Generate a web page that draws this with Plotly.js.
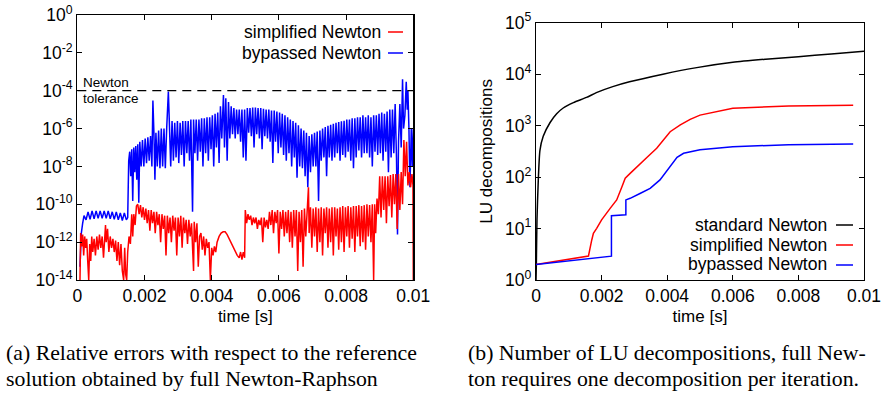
<!DOCTYPE html>
<html><head><meta charset="utf-8">
<script src="https://cdn.plot.ly/plotly-3.0.1.min.js"></script>
<style>html,body{margin:0;padding:0;background:#fff}#chart{width:886px;height:393px}</style>
</head><body><div id="chart"></div>
<script>
// ---------- Panel (a): relative errors ----------
const tBlue = [0.00008,0.00012,0.00016,0.0002,0.00026,0.00032,0.00038,0.00044,0.0005,0.00056,0.00062,0.00068,0.00074,0.0008,0.00086,0.00092,0.00098,0.00104,0.0011,0.00116,0.00122,0.00128,0.00134,0.0014,0.00146,0.0015,
0.00153,0.00156,0.00159,0.00162,0.00165,0.00168,0.00171,0.00174,0.00177,0.0018,0.00183,0.00186,0.0019,0.00194,0.00198,0.00202,0.00206,0.0021,0.00214,0.00218,0.00222,0.00225,0.00228,0.00231,0.00234,0.00238,0.00242,0.00246,0.0025,0.00254,0.00258,0.00262,0.00266,0.00271,
0.00274,0.00278,0.00282,0.00286,0.0029,0.00294,0.00298,0.00302,0.00306,0.0031,0.00314,0.00318,0.00322,0.00326,0.0033,0.00334,0.00338,0.00343,0.00346,0.0035,0.00354,0.00358,0.00362,0.00366,0.0037,0.00374,0.00378,0.00382,0.00386,0.0039,0.00394,0.00398,
0.00402,0.00406,0.0041,0.00414,0.00418,0.00422,0.00426,0.0043,0.00435,0.00438,0.00442,0.00446,0.0045,0.00454,0.00458,0.00462,0.00466,0.0047,0.00474,0.00478,0.00482,0.00486,0.0049,0.00494,0.00498,
0.00502,0.00506,0.0051,0.00514,0.00518,0.00522,0.00526,0.0053,0.00534,0.00538,0.00542,0.00546,0.0055,0.00554,0.00558,0.00562,0.00566,0.0057,0.00574,0.00578,0.00582,0.00586,0.0059,0.00594,0.00598,
0.00602,0.00606,0.0061,0.00614,0.00618,0.00622,0.00626,0.0063,0.00634,0.00638,0.00642,0.00646,0.0065,0.00654,0.00658,0.00662,0.00666,0.0067,0.00674,0.00678,0.00682,0.00686,0.0069,0.00694,0.00698,
0.00702,0.00706,0.0071,0.00714,0.00718,0.00722,0.00726,0.0073,0.00734,0.00738,0.00742,0.00746,0.0075,0.00754,0.00758,0.00762,0.00766,0.0077,0.00774,0.00778,0.00782,0.00786,0.0079,0.00794,0.00798,
0.00802,0.00806,0.0081,0.00814,0.00818,0.00822,0.00826,0.0083,0.00834,0.00838,0.00842,0.00846,0.0085,0.00854,0.00858,0.00862,0.00866,0.0087,0.00874,0.00878,0.00882,0.00886,0.0089,0.00894,0.00898,
0.00902,0.00906,0.0091,0.00914,0.00918,0.00922,0.00926,0.0093,0.00934,0.00938,0.00942,0.00946,0.0095,0.00953,0.00956,0.0096,0.00964,0.00968,0.00971,0.00975,0.00979,0.00982,0.00984,0.00987,0.0099,0.00994,0.00997,0.01];
const vBlue = [5e-14,3e-12,1e-11,2.5e-11,1.5e-11,4e-11,1.6e-11,4.5e-11,1.7e-11,4.5e-11,1.8e-11,4.5e-11,1.8e-11,4.5e-11,1.8e-11,4.5e-11,1.7e-11,4e-11,1.6e-11,4e-11,1.5e-11,3.5e-11,1.4e-11,3.5e-11,1.5e-11,2e-11,
2e-8,6e-8,3e-9,8e-8,1.5e-10,1e-7,5e-9,1.2e-7,2e-9,1.5e-7,1.2e-10,2e-7,1e-8,2.5e-7,1e-8,3e-7,1.5e-8,3.5e-7,2e-8,4e-7,1e-8,3e-5,6e-7,2e-9,6e-7,1e-8,8e-7,8e-9,1e-6,1e-8,1e-6,8e-9,1e-6,9e-5,
2e-6,1e-8,2.5e-6,2e-8,2e-6,3e-8,2.5e-6,1.5e-8,2e-6,4e-8,2.5e-6,1e-8,2.5e-6,5e-8,2.5e-6,2e-8,3e-6,4e-11,3e-6,5e-8,3e-6,2e-8,3e-6,6e-8,3.5e-6,1e-8,3.5e-6,5e-8,4e-6,2e-8,4e-6,8e-8,
5e-6,1e-8,6e-6,1e-7,7e-6,1.5e-8,1.5e-5,3e-7,6e-5,1e-7,4e-5,2e-8,2.5e-5,3e-7,1.5e-5,5e-7,1.2e-5,3e-7,1e-5,5e-7,1e-5,2e-7,1e-5,3e-8,1e-5,
2e-8,1.2e-5,6e-7,1.2e-5,4e-7,1.3e-5,1e-7,1.3e-5,5e-7,1.2e-5,3e-7,1.2e-5,8e-8,1.1e-5,4e-7,1e-5,3e-7,1e-5,2e-7,9e-6,1.5e-8,9e-6,2e-7,8e-6,5e-8,
7e-6,1e-7,6e-6,4e-8,5e-6,2e-8,4e-6,5e-8,3e-6,1e-8,2.5e-6,3e-8,2e-6,2.5e-9,1.5e-6,1e-8,1e-6,8e-9,8e-7,3e-9,6e-7,8e-10,4e-7,5e-9,5e-7,
1e-8,6e-7,1e-8,7e-7,1.5e-10,8e-7,2e-8,1e-6,3e-8,1.2e-6,3e-9,1.4e-6,3e-8,1.6e-6,2e-8,1.8e-6,3e-8,2e-6,5e-8,2.2e-6,2e-8,2.4e-6,4e-8,2.6e-6,3e-8,
3e-6,6e-8,3e-6,2e-8,3.5e-6,8e-9,3.5e-6,3e-8,4e-6,7e-8,4e-6,3e-8,5e-6,5e-8,4e-6,5e-8,5e-6,3e-8,4e-6,1e-8,5e-6,6e-8,5e-6,4e-8,6e-6,
5e-8,7e-6,2e-8,6e-6,6e-8,8e-6,5e-9,1e-5,3e-8,1e-5,5e-8,2e-5,3e-8,2.5e-12,2e-7,2e-5,1e-7,4e-4,1e-6,5e-6,3e-4,1e-5,1e-4,1e-6,8e-10,1e-6,1e-8,1e-6];

const tRed = [0.00008,0.0001,0.00013,0.00016,0.00019,0.00022,0.00025,0.00028,0.00031,0.00034,0.00037,0.0004,0.00043,0.00046,0.0005,0.00054,0.00058,0.00062,0.00066,0.0007,0.00074,0.00078,0.00084,0.00086,0.0009,0.00094,0.00098,
0.00102,0.00106,0.0011,0.00114,0.00118,0.00122,0.00126,0.0013,0.00134,0.00138,0.00141,0.00144,0.00147,0.0015,0.00154,0.00158,0.00162,0.00165,0.00168,0.00172,0.00176,0.0018,0.00184,0.00188,0.00192,0.00196,
0.002,0.00204,0.00208,0.00212,0.00216,0.0022,0.00224,0.00228,0.00232,0.00236,0.0024,0.00244,0.00248,0.00252,0.00256,0.0026,0.00264,0.00268,0.00272,0.00276,0.0028,0.00284,0.00288,0.00292,0.00296,
0.003,0.00304,0.00308,0.00312,0.00316,0.0032,0.00324,0.00328,0.00332,0.00336,0.0034,0.00346,0.00348,0.00352,0.00356,0.0036,0.00364,0.00368,0.00372,0.00376,0.0038,0.00384,0.00388,0.00392,0.00396,
0.004,0.00404,0.00408,0.00412,0.00416,0.00422,0.00428,0.00434,0.0044,0.00446,0.00452,0.00458,0.00464,0.0047,0.00476,0.00482,0.00486,0.0049,0.00494,0.00498,
0.005,0.00504,0.00508,0.00512,0.00516,0.0052,0.00524,0.00528,0.00532,0.00536,0.0054,0.00544,0.00548,0.00552,0.00556,0.0056,0.00564,0.00568,0.00572,0.00576,0.0058,0.00584,0.00588,0.00592,0.00596,
0.006,0.00604,0.00608,0.00612,0.00616,0.0062,0.00624,0.00628,0.00632,0.00636,0.0064,0.00644,0.00648,0.00652,0.00656,0.0066,0.00664,0.00668,0.00672,0.00676,0.0068,0.00684,0.00688,0.0069,0.00694,0.00698,
0.00702,0.00706,0.0071,0.00714,0.00718,0.00722,0.00726,0.0073,0.00734,0.00738,0.00742,0.00746,0.0075,0.00754,0.00758,0.00762,0.00766,0.0077,0.00774,0.00778,0.00782,0.00786,0.0079,0.00794,0.00798,
0.00802,0.00806,0.0081,0.00814,0.00818,0.00822,0.00826,0.0083,0.00834,0.00838,0.00842,0.00846,0.0085,0.00854,0.00858,0.00862,0.00866,0.0087,0.00874,0.00878,0.00882,0.00885,0.00888,0.00892,0.00896,
0.009,0.00904,0.00908,0.00912,0.00916,0.0092,0.00924,0.00928,0.00932,0.00936,0.0094,0.00944,0.00948,0.00952,0.00956,0.0096,0.00964,0.00968,0.00972,0.00976,0.0098,0.00984,0.00988,0.00992,0.00996,0.00999,0.01];
const vRed = [1e-14,3e-12,6e-13,2.5e-12,2e-13,2e-12,5e-13,1.5e-12,1e-13,1e-14,8e-13,1e-13,2e-12,3e-13,1.5e-12,2e-13,2e-12,4e-13,2.5e-12,5e-13,2e-12,1.5e-13,8e-12,1e-12,5e-12,3e-13,2e-12,
5e-13,1.5e-12,3e-13,1.2e-12,1e-13,1e-12,6e-14,8e-13,3e-14,1e-14,5e-13,2e-14,1e-14,3e-13,2e-12,8e-13,3e-11,2e-12,3e-11,8e-12,8e-11,1e-10,3e-11,9e-11,2e-11,7e-11,
1.5e-11,6e-11,1e-11,5e-11,4e-12,5e-11,1e-11,4e-11,3e-12,4e-11,8e-12,3e-11,1e-12,3e-11,5e-12,2.5e-11,2e-13,2.5e-11,3e-12,2e-11,1e-12,2.5e-11,4e-12,2e-11,2e-13,
2e-11,2e-12,2.5e-11,5e-13,2e-11,3e-12,1.5e-11,8e-13,1.5e-11,2e-12,1e-11,3e-14,1.2e-11,1e-12,1e-11,5e-14,2e-12,3e-12,4e-13,2e-12,2e-13,1.5e-12,5e-13,1e-12,1e-14,
5e-13,2e-13,6e-13,3e-13,1e-12,2e-12,3e-12,3.5e-12,3.5e-12,2.5e-12,1.5e-12,8e-13,5e-13,3e-13,2e-13,1.5e-13,3e-13,1.2e-13,3e-13,1.5e-13,
5e-11,1e-11,3e-11,1.5e-11,2.5e-11,8e-12,2e-11,1e-11,2e-11,5e-12,1.5e-11,8e-12,2e-11,1e-12,2e-11,6e-12,1.5e-11,5e-12,4e-11,8e-12,5e-11,3e-12,4e-11,1e-11,5e-11,
2.5e-13,4e-11,5e-12,5e-11,2e-12,4e-11,3e-12,5e-11,1e-12,4e-11,5e-13,5e-11,2e-12,5e-11,3e-14,4e-11,1e-12,5e-11,5e-14,6e-11,2e-12,6e-11,8e-10,3e-12,7e-11,5e-13,
6e-11,2e-12,7e-11,3e-13,6e-11,1e-12,7e-11,2e-13,6e-11,3e-12,7e-11,5e-13,6e-11,1e-12,7e-11,2e-13,7e-11,2e-12,6e-11,4e-13,7e-11,1e-12,8e-11,3e-13,7e-11,
2e-12,8e-11,5e-13,7e-11,1.5e-12,8e-11,3e-13,8e-11,2e-12,9e-11,6e-13,8e-11,1e-12,9e-11,4e-13,1e-10,2e-12,9e-11,1e-12,1e-10,1e-14,1e-10,3e-12,2e-10,3e-11,
3e-9,2e-11,3e-9,5e-11,3e-9,1e-11,3e-9,8e-11,3.5e-9,2e-11,4e-9,1e-10,4e-9,5e-12,4e-9,5e-11,5e-9,1e-10,2.5e-7,3e-9,2e-7,1e-9,5e-9,8e-10,4e-9,1e-9,1e-14];

const tolT = [0, 0.01];
const tolV = [1e-4, 1e-4];

const xTicks = [0, 0.002, 0.004, 0.006, 0.008, 0.01];
const xTickText = ['0', '0.002', '0.004', '0.006', '0.008', '0.01'];
const yTicksA = [1e-14, 1e-12, 1e-10, 1e-8, 1e-6, 1e-4, 1e-2, 1];
const yTickTextA = ['10<sup>-14</sup>','10<sup>-12</sup>','10<sup>-10</sup>','10<sup>-8</sup>','10<sup>-6</sup>','10<sup>-4</sup>','10<sup>-2</sup>','10<sup>0</sup>'];

// ---------- Panel (b): LU decompositions ----------
const tStd = [0, 0.00001, 0.00003, 0.00007, 0.00012, 0.00022, 0.00043, 0.00063, 0.00083, 0.00114, 0.00154, 0.00184, 0.00234, 0.00285, 0.00387, 0.0049, 0.006, 0.007, 0.008, 0.009, 0.01];
const vStd = [1, 2, 15, 88, 330, 620, 1150, 1700, 2200, 2800, 3530, 4370, 5720, 7100, 10000, 13400, 17000, 19500, 21900, 24600, 28000];
const tSimp = [0, 0.0016, 0.0017, 0.00175, 0.00185, 0.002, 0.00226, 0.00246, 0.00262, 0.00272, 0.00287, 0.00307, 0.00338, 0.00368, 0.00389, 0.00409, 0.0044, 0.0047, 0.005, 0.006, 0.0077, 0.00967];
const vSimp = [2, 2.93, 6.0, 8.1, 10.1, 14.7, 24.7, 35.9, 65, 95, 118, 159, 241, 362, 525, 760, 1030, 1320, 1600, 2180, 2400, 2500];
const tByp = [0, 0.0023, 0.0023, 0.00274, 0.00274, 0.00287, 0.00317, 0.00348, 0.00378, 0.00409, 0.0043, 0.0045, 0.0048, 0.005, 0.006, 0.0077, 0.00967];
const vByp = [2, 2.9, 17.7, 18.5, 36, 38.7, 48, 60.5, 88, 160, 242, 290, 325, 340, 390, 425, 440];
const yTicksB = [1, 10, 100, 1000, 10000, 100000];
const yTickTextB = ['10<sup>0</sup>','10<sup>1</sup>','10<sup>2</sup>','10<sup>3</sup>','10<sup>4</sup>','10<sup>5</sup>'];

const W = 886, H = 393;
const px = x => x / W;
const py = y => 1 - y / H;
const RED = '#ff0000', BLUE = '#0000ff', BLACK = '#000000';
const FONT = 'Liberation Sans, Arial, Helvetica, sans-serif';
const SERIF = 'Liberation Serif, Times New Roman, serif';
const FS = 17.5;
const CFS = 21.8;

const traces = [
  {x: tBlue, y: vBlue, xaxis: 'x', yaxis: 'y', mode: 'lines', name: 'bypassed Newton', line: {color: BLUE, width: 1.5}},
  {x: tRed, y: vRed, xaxis: 'x', yaxis: 'y', mode: 'lines', name: 'simplified Newton', line: {color: RED, width: 1.5}},
  {x: tolT, y: tolV, xaxis: 'x', yaxis: 'y', mode: 'lines', name: 'Newton tolerance', line: {color: BLACK, width: 1.3, dash: '9px,6px'}},
  {x: tStd, y: vStd, xaxis: 'x2', yaxis: 'y2', mode: 'lines', name: 'standard Newton', line: {color: BLACK, width: 1.5, shape: 'spline', smoothing: 0.6}},
  {x: tSimp, y: vSimp, xaxis: 'x2', yaxis: 'y2', mode: 'lines', name: 'simplified Newton', line: {color: RED, width: 1.5}},
  {x: tByp, y: vByp, xaxis: 'x2', yaxis: 'y2', mode: 'lines', name: 'bypassed Newton', line: {color: BLUE, width: 1.5}}
];

const axBase = {
  ticks: 'inside', ticklen: 5, tickwidth: 1, tickcolor: BLACK,
  showline: true, linecolor: BLACK, linewidth: 1.2, mirror: 'ticks',
  showgrid: false, zeroline: false, automargin: false,
  tickfont: {family: FONT, size: FS, color: BLACK}
};

const layout = {
  width: W, height: H,
  margin: {l: 0, r: 0, t: 0, b: 0},
  paper_bgcolor: '#fff', plot_bgcolor: '#fff',
  font: {family: FONT, size: FS, color: BLACK},
  showlegend: false,
  xaxis: Object.assign({}, axBase, {domain: [px(77.3), px(413.3)], anchor: 'y', range: [0, 0.01],
    tickmode: 'array', tickvals: xTicks, ticktext: xTickText,
    title: {text: 'time [s]', font: {family: FONT, size: 17}, standoff: 4}}),
  yaxis: Object.assign({}, axBase, {domain: [py(280), py(15)], anchor: 'x', type: 'log', range: [-14, 0],
    tickmode: 'array', tickvals: yTicksA, ticktext: yTickTextA}),
  xaxis2: Object.assign({}, axBase, {domain: [px(536), px(864)], anchor: 'y2', range: [0, 0.01],
    tickmode: 'array', tickvals: xTicks, ticktext: xTickText,
    title: {text: 'time [s]', font: {family: FONT, size: 17}, standoff: 4}}),
  yaxis2: Object.assign({}, axBase, {domain: [py(280), py(22.7)], anchor: 'x2', type: 'log', range: [0, 5],
    tickmode: 'array', tickvals: yTicksB, ticktext: yTickTextB,
    title: {text: 'LU decompositions', font: {family: FONT, size: 17}}}),
  shapes: [
    {type: 'line', xref: 'paper', yref: 'paper', x0: px(388), x1: px(403), y0: py(32), y1: py(32), line: {color: RED, width: 1.5}},
    {type: 'line', xref: 'paper', yref: 'paper', x0: px(388), x1: px(403), y0: py(53), y1: py(53), line: {color: BLUE, width: 1.5}},
    {type: 'line', xref: 'paper', yref: 'paper', x0: px(836), x1: px(853), y0: py(225), y1: py(225), line: {color: BLACK, width: 1.5}},
    {type: 'line', xref: 'paper', yref: 'paper', x0: px(836), x1: px(853), y0: py(245), y1: py(245), line: {color: RED, width: 1.5}},
    {type: 'line', xref: 'paper', yref: 'paper', x0: px(836), x1: px(853), y0: py(265), y1: py(265), line: {color: BLUE, width: 1.5}}
  ],
  annotations: [
    {xref: 'paper', yref: 'paper', x: px(383), y: py(32), xanchor: 'right', yanchor: 'middle', showarrow: false, text: 'simplified Newton', font: {family: FONT, size: FS}},
    {xref: 'paper', yref: 'paper', x: px(383), y: py(53), xanchor: 'right', yanchor: 'middle', showarrow: false, text: 'bypassed Newton', font: {family: FONT, size: FS}},
    {xref: 'paper', yref: 'paper', x: px(81), y: py(83), xanchor: 'left', yanchor: 'middle', showarrow: false, text: 'Newton', font: {family: FONT, size: 13.5}},
    {xref: 'paper', yref: 'paper', x: px(81), y: py(98), xanchor: 'left', yanchor: 'middle', showarrow: false, text: 'tolerance', font: {family: FONT, size: 13.5}},
    {xref: 'paper', yref: 'paper', x: px(829), y: py(225), xanchor: 'right', yanchor: 'middle', showarrow: false, text: 'standard Newton', font: {family: FONT, size: FS}},
    {xref: 'paper', yref: 'paper', x: px(829), y: py(245), xanchor: 'right', yanchor: 'middle', showarrow: false, text: 'simplified Newton', font: {family: FONT, size: FS}},
    {xref: 'paper', yref: 'paper', x: px(829), y: py(264), xanchor: 'right', yanchor: 'middle', showarrow: false, text: 'bypassed Newton', font: {family: FONT, size: FS}},
    {xref: 'paper', yref: 'paper', x: px(5), y: py(353), xanchor: 'left', yanchor: 'middle', showarrow: false, borderpad: 0, text: '(a) Relative errors with respect to the reference', font: {family: SERIF, size: CFS}},
    {xref: 'paper', yref: 'paper', x: px(5), y: py(379), xanchor: 'left', yanchor: 'middle', showarrow: false, borderpad: 0, text: 'solution obtained by full Newton-Raphson', font: {family: SERIF, size: CFS}},
    {xref: 'paper', yref: 'paper', x: px(467), y: py(353), xanchor: 'left', yanchor: 'middle', showarrow: false, borderpad: 0, text: '(b) Number of LU decompositions, full New-', font: {family: SERIF, size: CFS}},
    {xref: 'paper', yref: 'paper', x: px(467), y: py(379), xanchor: 'left', yanchor: 'middle', showarrow: false, borderpad: 0, text: 'ton requires one decomposition per iteration.', font: {family: SERIF, size: CFS}}
  ]
};

Plotly.newPlot('chart', traces, layout, {staticPlot: true, displayModeBar: false});
</script></body></html>
